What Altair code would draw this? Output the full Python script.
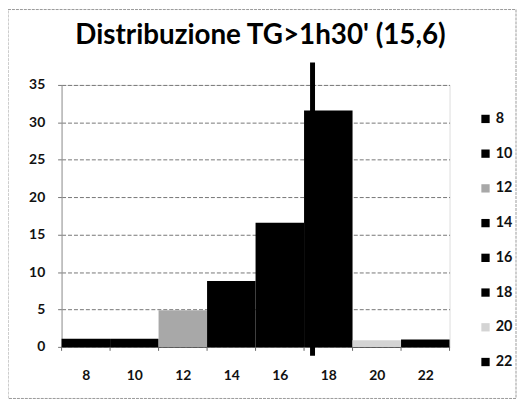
import altair as alt
import pandas as pd

categories = [8, 10, 12, 14, 16, 18, 20, 22]
values = [1.1, 1.1, 4.9, 8.8, 16.6, 31.6, 0.9, 1.0]
colors = ["#000000", "#000000", "#a8a8a8", "#000000", "#000000", "#000000", "#d4d4d4", "#000000"]
labels = [str(c) for c in categories]
y_ticks = [0, 5, 10, 15, 20, 25, 30, 35]
boundaries = [7, 9, 11, 13, 15, 17, 19, 21, 23]
marker_x = [17.35]
marker_low = [-1.2]
marker_high = [38.0]

W, H = 391, 264
FONT = "Lato"

bars_df = pd.DataFrame({"cat": categories, "value": values, "label": labels})
bound_df = pd.DataFrame({"b": boundaries})
marker_df = pd.DataFrame({"mx": marker_x, "lo": marker_low, "hi": marker_high})

xscale = alt.Scale(domain=[7, 23], nice=False, zero=False)
yscale = alt.Scale(domain=[0, 35], nice=False)

yaxis = alt.Axis(values=y_ticks, title=None, grid=True, gridColor="#777",
                 gridDash=[4, 2], gridWidth=1, domainColor="#999",
                 tickColor="#777", tickSize=4, labelFont=FONT,
                 labelFontSize=14, labelFontWeight="bold", labelColor="#111",
                 labelPadding=13)
xaxis = alt.Axis(values=categories, format="d", title=None, ticks=False,
                 grid=False, domainColor="#555", labelFont=FONT,
                 labelFontSize=14, labelFontWeight="bold", labelColor="#111",
                 labelPadding=22)

frame = alt.Chart(pd.DataFrame({"f": [0]})).mark_rect(
    fill=None, stroke="#9a9a9a", strokeWidth=1, strokeDash=[3, 1]
).encode(
    x=alt.value(-54), x2=alt.value(W + 67), y=alt.value(-76), y2=alt.value(H + 52)
)

bars = alt.Chart(bars_df).transform_calculate(
    x0="datum.cat - 1", x1="datum.cat + 1"
).mark_bar(stroke=None).encode(
    x=alt.X("x0:Q", scale=xscale, axis=xaxis),
    x2="x1:Q",
    y=alt.Y("value:Q", scale=yscale, axis=yaxis),
    y2=alt.datum(0),
    color=alt.Color("label:N", sort=labels,
                    scale=alt.Scale(domain=labels, range=colors),
                    legend=alt.Legend(title=None, orient="none", legendX=420, legendY=27,
                                      symbolType="square", symbolSize=70,
                                      symbolStrokeWidth=0, labelFont=FONT,
                                      labelFontSize=14.5, labelFontWeight="bold",
                                      labelColor="#111", rowPadding=20, labelOffset=3)),
)

ticks = alt.Chart(bound_df).mark_rule(color="#666", strokeWidth=1).encode(
    x=alt.X("b:Q", scale=xscale, axis=xaxis),
    y=alt.value(H), y2=alt.value(H + 4),
)

marker = alt.Chart(marker_df).mark_rule(color="#000", strokeWidth=5).encode(
    x=alt.X("mx:Q", scale=xscale, axis=xaxis),
    y=alt.Y("lo:Q", scale=yscale, axis=yaxis),
    y2="hi:Q",
)

chart = alt.layer(frame, bars, ticks, marker).properties(
    width=W, height=H,
    title=alt.TitleParams("Distribuzione TG>1h30' (15,6)", font=FONT, fontSize=28,
                          fontWeight="bold", color="#000", offset=-41, dx=5,
                          frame="group"),
    autosize=alt.AutoSizeParams(type="none"),
    padding={"left": 54, "top": 76, "right": 69, "bottom": 53},
).configure_view(stroke=None).configure(background="white")

chart.save("out.html", embed_options={"renderer": "svg", "actions": False})
